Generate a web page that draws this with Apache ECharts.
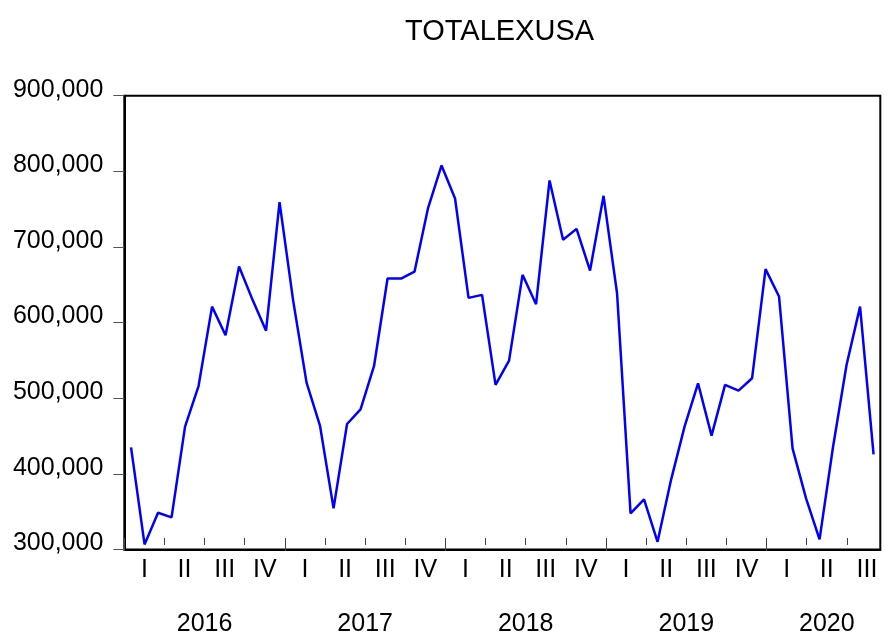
<!DOCTYPE html>
<html>
<head>
<meta charset="utf-8">
<script src="https://cdn.jsdelivr.net/npm/echarts@6/dist/echarts.min.js"></script>
<style>html,body{margin:0;padding:0;background:#fff}#c{width:887px;height:637px}</style>
</head>
<body>
<div id="c"></div>
<script>
// ---- data ----
const title = 'TOTALEXUSA';
const years = ['2016', '2017', '2018', '2019', '2020'];
const quarterLabels = ['I', 'II', 'III', 'IV'];
const values2016 = [435000, 306600, 348400, 342400, 462300, 516000, 621100, 583300, 674100, 630000, 589300, 759300];
const values2017 = [630000, 520500, 463200, 354300, 465800, 485300, 542600, 658200, 658200, 667400, 751400, 807700];
const values2018 = [764100, 632600, 636600, 517500, 549600, 663100, 624300, 787900, 709400, 723900, 668800, 767600];
const values2019 = [638800, 347600, 366200, 310100, 392000, 462300, 519700, 450400, 517500, 510000, 526300, 670600];
const values2020 = [634400, 433700, 367500, 313200, 435800, 543900, 621100, 425700];
const yTicks = [300000, 400000, 500000, 600000, 700000, 800000, 900000];

// ---- build ----
const values = [].concat(values2016, values2017, values2018, values2019, values2020);
const months = [];
years.forEach(function (y) {
  for (let m = 1; m <= 12; m++) {
    if (months.length < values.length) months.push(y + 'M' + (m < 10 ? '0' + m : m));
  }
});
const nMonths = values.length;              // 56
const nSlots = 2 * (nMonths + 1) + 1;       // half-month slots for label axes
const slotQuarter = [];
const slotYear = [];
for (let i = 0; i < nSlots; i++) {
  slotQuarter.push(i % 6 === 3 ? quarterLabels[((i - 3) / 6) % 4] : '');
  slotYear.push('');
}
// year label positions (centre of each year's span; last year over its shown quarters)
const yearSlot = [12, 36, 60, 84, 105];
years.forEach(function (y, k) { slotYear[yearSlot[k]] = y; });

const L = 124.3, T = 95.7, B = 87.6;
const step = 13.5;
const font = 'Liberation Sans, Arial, sans-serif';

const chart = echarts.init(document.getElementById('c'), null, {renderer: 'canvas'});
chart.setOption({
  animation: false,
  backgroundColor: '#fff',
  title: {
    text: title, left: 400, top: 12,
    textStyle: {fontFamily: font, fontSize: 29, fontWeight: 'normal', color: '#000'}
  },
  grid: [
    {left: L, top: T, width: step * nMonths, bottom: B, show: true, borderColor: '#000', borderWidth: 2, backgroundColor: 'transparent', containLabel: false},
    {left: L, top: T, width: step * (nMonths + 1), bottom: B, show: false, containLabel: false}
  ],
  xAxis: [
    {
      type: 'category', gridIndex: 0, data: months, boundaryGap: true, position: 'bottom',
      axisLine: {show: true, lineStyle: {color: '#000', width: 2}},
      axisTick: {show: false}, axisLabel: {show: false}, splitLine: {show: false}
    },
    {
      type: 'category', gridIndex: 1, data: slotQuarter, boundaryGap: false, position: 'bottom',
      axisLine: {show: false},
      axisTick: {show: true, length: 7, lineStyle: {color: '#444', width: 1},
        interval: function (i) { return i % 6 === 0 && i <= 2 * (nMonths - 2); }},
      axisLabel: {show: true, margin: 20, fontFamily: font, fontSize: 25, color: '#000',
        interval: function (i) { return i % 6 === 3 && i <= 2 * nMonths; }},
      splitLine: {show: false}
    },
    {
      type: 'category', gridIndex: 1, data: slotYear, boundaryGap: false, position: 'bottom',
      axisLine: {show: false},
      axisTick: {show: true, length: 13, lineStyle: {color: '#444', width: 1},
        interval: function (i) { return i % 24 === 0 && i < 2 * nMonths; }},
      axisLabel: {show: true, margin: 74, fontFamily: font, fontSize: 25, color: '#000',
        interval: function (i, v) { return v !== ''; }},
      splitLine: {show: false}
    }
  ],
  yAxis: [
    {
      type: 'value', gridIndex: 0, min: yTicks[0], max: yTicks[yTicks.length - 1], interval: yTicks[1] - yTicks[0],
      axisLine: {show: true, lineStyle: {color: '#000', width: 2}},
      axisTick: {show: true, length: 11, inside: false, lineStyle: {color: '#555', width: 1}},
      axisLabel: {show: true, margin: 21, fontFamily: font, fontSize: 25, color: '#000',
        verticalAlign: 'bottom', lineHeight: 12,
        formatter: function (v) { return v.toLocaleString('en-US'); }},
      splitLine: {show: false}
    },
    {type: 'value', gridIndex: 1, show: false, min: 0, max: 1}
  ],
  series: [{
    type: 'line', xAxisIndex: 0, yAxisIndex: 0, data: values,
    showSymbol: false, symbol: 'none',
    lineStyle: {color: '#0000FF', width: 2.5}, itemStyle: {color: '#0000FF'}
  }]
});
</script>
</body>
</html>
